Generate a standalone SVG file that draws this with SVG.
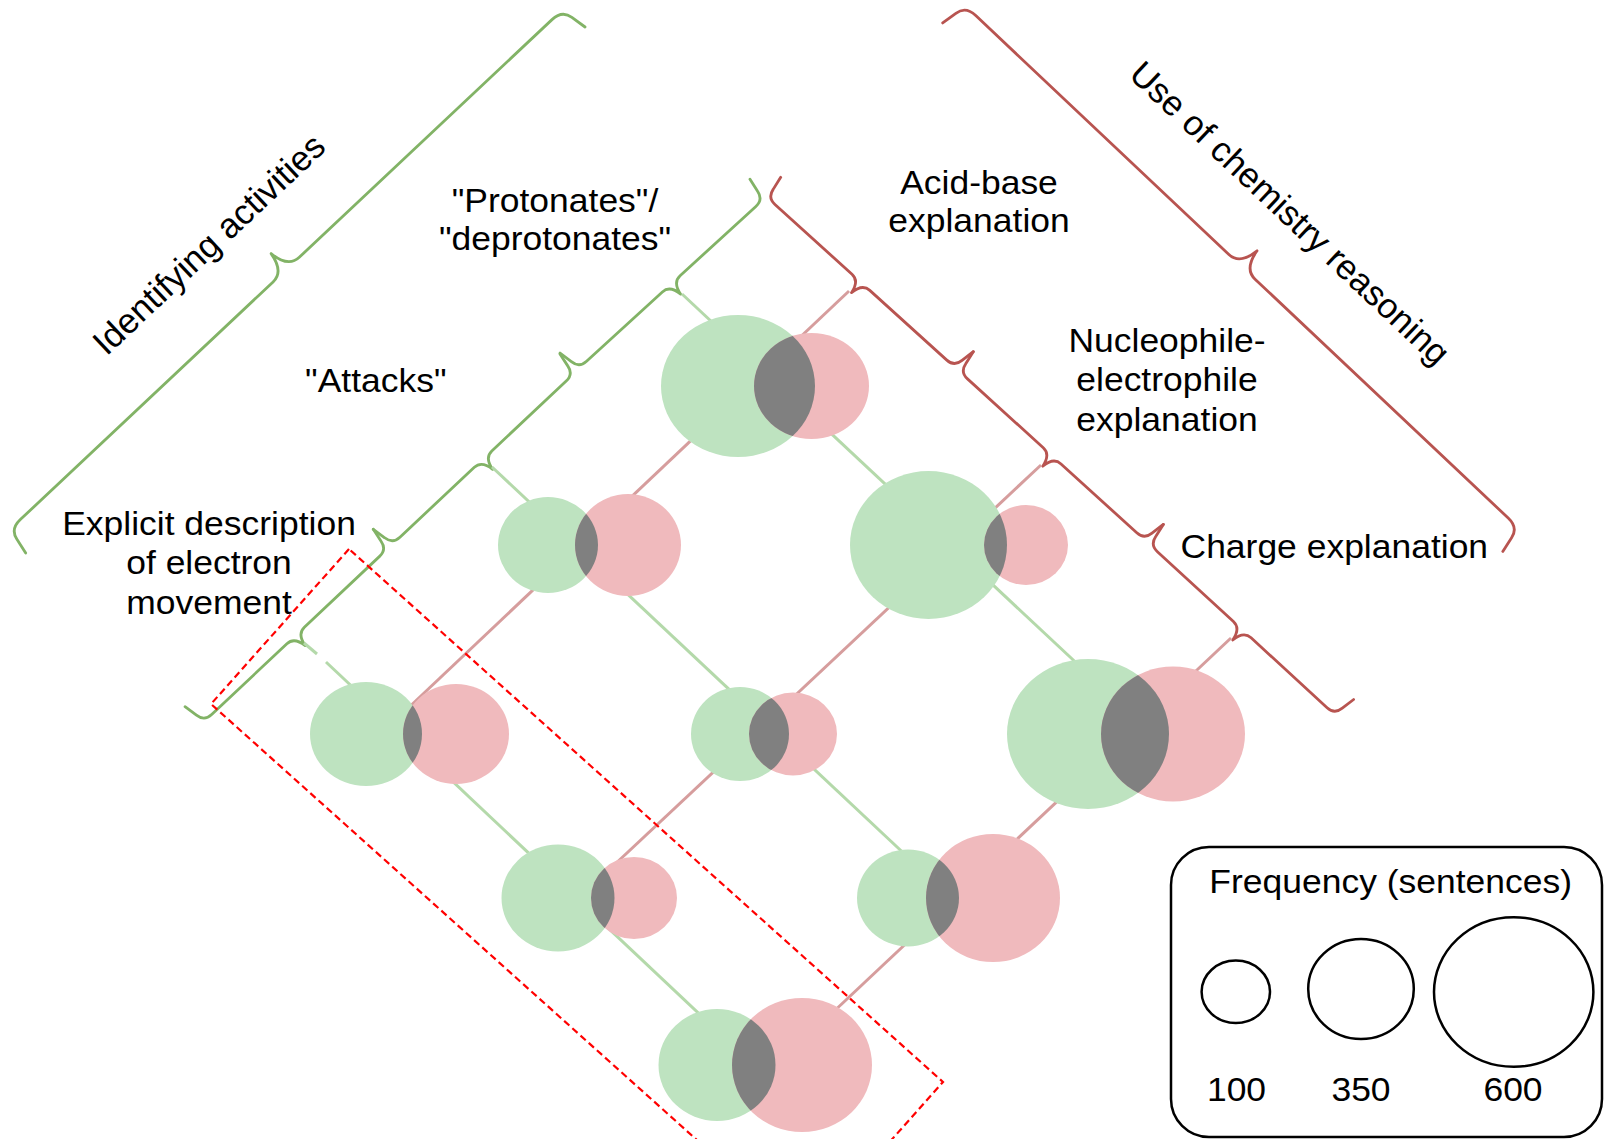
<svg xmlns="http://www.w3.org/2000/svg" width="1604" height="1139" viewBox="0 0 1604 1139">
<style>
.g{fill:#bee3c0}
.p{fill:#f0babd}
.o{fill:#808080}
.bg{fill:none;stroke:#82b366;stroke-width:2.8;stroke-linecap:round;stroke-linejoin:round}
.br{fill:none;stroke:#b85450;stroke-width:2.8;stroke-linecap:round;stroke-linejoin:round}
.cg{fill:none;stroke:#b4d9aa;stroke-width:3}
.cr{fill:none;stroke:#d69d9d;stroke-width:3}
.t{font-family:"Liberation Sans",Arial,Helvetica,sans-serif;font-size:33px;fill:#000;text-anchor:middle}
.tr{font-family:"Liberation Sans",Arial,Helvetica,sans-serif;font-size:35px;fill:#000;text-anchor:middle}
.lc{fill:none;stroke:#000;stroke-width:2.5}
</style>
<defs>
<clipPath id="c1"><ellipse cx="738" cy="386" rx="77" ry="71"/></clipPath>
<clipPath id="c2"><ellipse cx="548" cy="545" rx="50" ry="48"/></clipPath>
<clipPath id="c3"><ellipse cx="928.5" cy="545" rx="78.5" ry="74"/></clipPath>
<clipPath id="c4"><ellipse cx="366" cy="734" rx="56" ry="52"/></clipPath>
<clipPath id="c5"><ellipse cx="740" cy="734" rx="49" ry="47"/></clipPath>
<clipPath id="c6"><ellipse cx="1088" cy="734" rx="81" ry="75"/></clipPath>
<clipPath id="c7"><ellipse cx="558" cy="898" rx="56.5" ry="53.5"/></clipPath>
<clipPath id="c8"><ellipse cx="908" cy="898" rx="51" ry="48.5"/></clipPath>
<clipPath id="c9"><ellipse cx="717" cy="1065" rx="58.5" ry="56"/></clipPath>
</defs>
<rect width="1604" height="1139" fill="#fff"/>

<g id="braces">
<path id="brace-identifying" class="bg" transform="translate(562.2,10.03) rotate(136.76) scale(1,-1)" d="M -5,28 L -2,12 Q 0,0 14,0 L 360.9,0 Q 375.9,0 378.9,-22 Q 381.9,0 396.9,0 L 743.8,0 Q 757.8,0 759.8,12 L 762.8,28"/>
<path id="brace-chem" class="br" transform="translate(965.56,5.97) rotate(43.34)" d="M -5,28 L -2,12 Q 0,0 14,0 L 362.05,0 Q 377.05,0 380.05,-22 Q 383.05,0 398.05,0 L 746.1,0 Q 760.1,0 762.1,12 L 765.1,28"/>
<path id="brace-g1" class="bg" transform="translate(763.25,199.7) rotate(137.56)" d="M -4,24 L -1.5,10 Q 0,0 10,0 L 112.7,0 Q 122.7,0 124.7,-14 Q 126.7,0 136.7,0 L 239.4,0 Q 249.4,0 250.9,10 L 253.4,24"/>
<path id="brace-g2" class="bg" transform="translate(573.5,374.2) rotate(136.8)" d="M -4,24 L -1.5,10 Q 0,0 10,0 L 112.05,0 Q 122.05,0 124.05,-14 Q 126.05,0 136.05,0 L 238.1,0 Q 248.1,0 249.6,10 L 252.1,24"/>
<path id="brace-g3" class="bg" transform="translate(386.85,549.5) rotate(136.7)" d="M -4,24 L -1.5,10 Q 0,0 10,0 L 113.35,0 Q 123.35,0 125.35,-14 Q 127.35,0 137.35,0 L 240.7,0 Q 250.7,0 252.2,10 L 254.7,24"/>
<path id="brace-r1" class="br" transform="translate(767.56,197.8) rotate(42.16) scale(1,-1)" d="M -4,24 L -1.5,10 Q 0,0 10,0 L 113.9,0 Q 123.9,0 125.9,-14 Q 127.9,0 137.9,0 L 241.8,0 Q 251.8,0 253.3,10 L 255.8,24"/>
<path id="brace-r2" class="br" transform="translate(960.1,372.15) rotate(42.28) scale(1,-1)" d="M -4,24 L -1.5,10 Q 0,0 10,0 L 112.4,0 Q 122.4,0 124.4,-14 Q 126.4,0 136.4,0 L 238.8,0 Q 248.8,0 250.3,10 L 252.8,24"/>
<path id="brace-r3" class="br" transform="translate(1150.05,544.9) rotate(42.6) scale(1,-1)" d="M -4,24 L -1.5,10 Q 0,0 10,0 L 113.25,0 Q 123.25,0 125.25,-14 Q 127.25,0 137.25,0 L 240.5,0 Q 250.5,0 252,10 L 254.5,24"/>
</g>

<g id="connectors">
<line class="cg" x1="682" y1="294" x2="1085" y2="671"/>
<line class="cg" x1="492" y1="467" x2="912" y2="861"/>
<line class="cg" x1="304" y1="643" x2="317" y2="654"/>
<line class="cg" x1="326" y1="662" x2="710" y2="1024"/>
<line class="cr" x1="849" y1="291" x2="404" y2="712"/>
<line class="cr" x1="1041" y1="465" x2="612" y2="867"/>
<line class="cr" x1="1231" y1="638" x2="830" y2="1015"/>
</g>

<g id="n1"><ellipse class="g" cx="738" cy="386" rx="77" ry="71"/><ellipse class="p" cx="811.5" cy="386" rx="57.5" ry="53"/><ellipse class="o" clip-path="url(#c1)" cx="811.5" cy="386" rx="57.5" ry="53"/></g>
<g id="n2"><ellipse class="g" cx="548" cy="545" rx="50" ry="48"/><ellipse class="p" cx="628" cy="545" rx="53" ry="51"/><ellipse class="o" clip-path="url(#c2)" cx="628" cy="545" rx="53" ry="51"/></g>
<g id="n3"><ellipse class="g" cx="928.5" cy="545" rx="78.5" ry="74"/><ellipse class="p" cx="1026" cy="545" rx="42" ry="40"/><ellipse class="o" clip-path="url(#c3)" cx="1026" cy="545" rx="42" ry="40"/></g>
<g id="n4"><ellipse class="g" cx="366" cy="734" rx="56" ry="52"/><ellipse class="p" cx="456" cy="734" rx="53" ry="50"/><ellipse class="o" clip-path="url(#c4)" cx="456" cy="734" rx="53" ry="50"/></g>
<g id="n5"><ellipse class="g" cx="740" cy="734" rx="49" ry="47"/><ellipse class="p" cx="793" cy="734" rx="44" ry="41.5"/><ellipse class="o" clip-path="url(#c5)" cx="793" cy="734" rx="44" ry="41.5"/></g>
<g id="n6"><ellipse class="g" cx="1088" cy="734" rx="81" ry="75"/><ellipse class="p" cx="1173" cy="734" rx="72" ry="67.5"/><ellipse class="o" clip-path="url(#c6)" cx="1173" cy="734" rx="72" ry="67.5"/></g>
<g id="n7"><ellipse class="g" cx="558" cy="898" rx="56.5" ry="53.5"/><ellipse class="p" cx="634" cy="898" rx="43" ry="41"/><ellipse class="o" clip-path="url(#c7)" cx="634" cy="898" rx="43" ry="41"/></g>
<g id="n8"><ellipse class="g" cx="908" cy="898" rx="51" ry="48.5"/><ellipse class="p" cx="993" cy="898" rx="67" ry="64"/><ellipse class="o" clip-path="url(#c8)" cx="993" cy="898" rx="67" ry="64"/></g>
<g id="n9"><ellipse class="g" cx="717" cy="1065" rx="58.5" ry="56"/><ellipse class="p" cx="802" cy="1065" rx="70" ry="67"/><ellipse class="o" clip-path="url(#c9)" cx="802" cy="1065" rx="70" ry="67"/></g>

<g id="highlight">
<polygon points="349,549 211,704 805,1237 943,1082" fill="none" stroke="#ff0000" stroke-width="2.2" stroke-dasharray="7,4"/>
</g>

<g id="labels">
<text class="tr" transform="translate(217,253) rotate(-43.2)">Identifying activities</text>
<text class="tr" transform="translate(1281.7,221.8) rotate(43.3)">Use of chemistry reasoning</text>
<text class="t" transform="translate(555,211.7) scale(1.075,1)"><tspan x="0" y="0">"Protonates"/</tspan><tspan x="0" y="38.3">"deprotonates"</tspan></text>
<text class="t" transform="translate(375.8,391.7) scale(1.075,1)">"Attacks"</text>
<text class="t" transform="translate(209,534.5) scale(1.075,1)"><tspan x="0" y="0">Explicit description</tspan><tspan x="0" y="40">of electron</tspan><tspan x="0" y="79.5">movement</tspan></text>
<text class="t" transform="translate(979,194) scale(1.075,1)"><tspan x="0" y="0">Acid-base</tspan><tspan x="0" y="38.5">explanation</tspan></text>
<text class="t" transform="translate(1167,351.7) scale(1.075,1)"><tspan x="0" y="0">Nucleophile-</tspan><tspan x="0" y="39.5">electrophile</tspan><tspan x="0" y="79">explanation</tspan></text>
<text class="t" transform="translate(1334.3,557.8) scale(1.075,1)">Charge explanation</text>
</g>

<g id="legend">
<rect x="1171" y="847" width="431" height="290" rx="38" ry="38" fill="none" stroke="#000" stroke-width="2.5"/>
<text class="t" transform="translate(1390.7,893) scale(1.075,1)">Frequency (sentences)</text>
<ellipse class="lc" cx="1235.8" cy="991.8" rx="34.2" ry="31.2"/>
<ellipse class="lc" cx="1361" cy="989" rx="52.8" ry="50"/>
<ellipse class="lc" cx="1513.7" cy="992" rx="79.7" ry="74.7"/>
<text class="t" transform="translate(1236.5,1101.3) scale(1.075,1)">100</text>
<text class="t" transform="translate(1361,1101.3) scale(1.075,1)">350</text>
<text class="t" transform="translate(1513,1101.3) scale(1.075,1)">600</text>
</g>
</svg>
